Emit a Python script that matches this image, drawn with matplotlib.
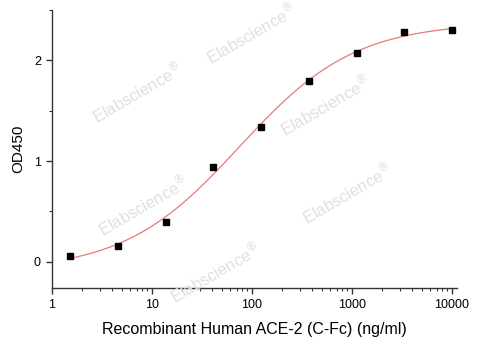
import numpy as np
import matplotlib
matplotlib.use("Agg")
import matplotlib.pyplot as plt
from matplotlib.ticker import LogLocator, NullFormatter, MultipleLocator

plt.rcParams['font.family'] = ['Liberation Sans', 'DejaVu Sans']

# data (3-fold dilution series)
conc = [1.52, 4.57, 13.7, 41.2, 123.5, 370.4, 1111.1, 3333.3, 10000.0]
od450 = [0.06, 0.16, 0.40, 0.94, 1.34, 1.80, 2.07, 2.28, 2.30]

x_label = "Recombinant Human ACE-2 (C-Fc) (ng/ml)"
y_label = "OD450"
watermark = "Elabscience$^{\u00ae}$"
# watermark centres in figure pixels (x, y from top)
wm_pos = [(137, 92), (251, 33), (325, 105), (143, 205), (215, 272), (347, 193)]


def four_pl_fit(x, y):
    # grid over EC50 / slope, linear least squares for bottom / top
    x = np.asarray(x)
    y = np.asarray(y)
    best = None
    for c in np.logspace(1, 3, 200):
        for b in np.linspace(0.5, 1.8, 131):
            u = (x / c) ** b
            M = np.column_stack([1 / (1 + u), u / (1 + u)])
            coef, *_ = np.linalg.lstsq(M, y, rcond=None)
            err = np.sum((M @ coef - y) ** 2)
            if best is None or err < best[0]:
                best = (err, coef[0], coef[1], c, b)
    return best[1:]


A, D, C, B = four_pl_fit(conc, od450)
xs = np.logspace(np.log10(conc[0]), np.log10(conc[-1]), 300)
ys = D + (A - D) / (1 + (xs / C) ** B)

fig = plt.figure(figsize=(4.8, 3.6), dpi=100)
ax = fig.add_axes([52 / 480, 1 - 288 / 360, 405 / 480, 278 / 360])
ax.patch.set_alpha(0)

for px, py in wm_pos:
    fig.text(px / 480, 1 - py / 360, watermark, rotation=30, fontsize=12,
             color="#e0e0e0", ha="center", va="center", zorder=0)

ax.plot(xs, ys, color="#e47a7a", lw=0.9, zorder=2)
ax.plot(conc, od450, "s", color="black", ms=5, zorder=3)

ax.set_xscale("log")
ax.set_xlim(1, 10 ** 4.05)
ax.set_ylim(-0.26, 2.5)
ax.xaxis.set_major_locator(LogLocator(base=10, numticks=10))
ax.xaxis.set_minor_locator(LogLocator(base=10, subs=np.arange(2, 10), numticks=10))
ax.xaxis.set_minor_formatter(NullFormatter())
ax.set_xticks([1, 10, 100, 1000, 10000])
ax.set_xticklabels(["1", "10", "100", "1000", "10000"])
ax.yaxis.set_major_locator(MultipleLocator(1))
ax.yaxis.set_minor_locator(MultipleLocator(0.5))

for s in ["top", "right"]:
    ax.spines[s].set_visible(False)
for s in ["left", "bottom"]:
    ax.spines[s].set_color("#333333")
    ax.spines[s].set_linewidth(1.0)

ax.tick_params(which="major", direction="out", length=4, width=1, color="#333333",
               labelsize=9, pad=4)
ax.tick_params(which="minor", direction="out", length=2.5, width=0.8, color="#333333")

ax.set_xlabel(x_label, fontsize=11.5, labelpad=8)
ax.set_ylabel(y_label, fontsize=11, labelpad=6)

fig.savefig("out.png", dpi=100)
